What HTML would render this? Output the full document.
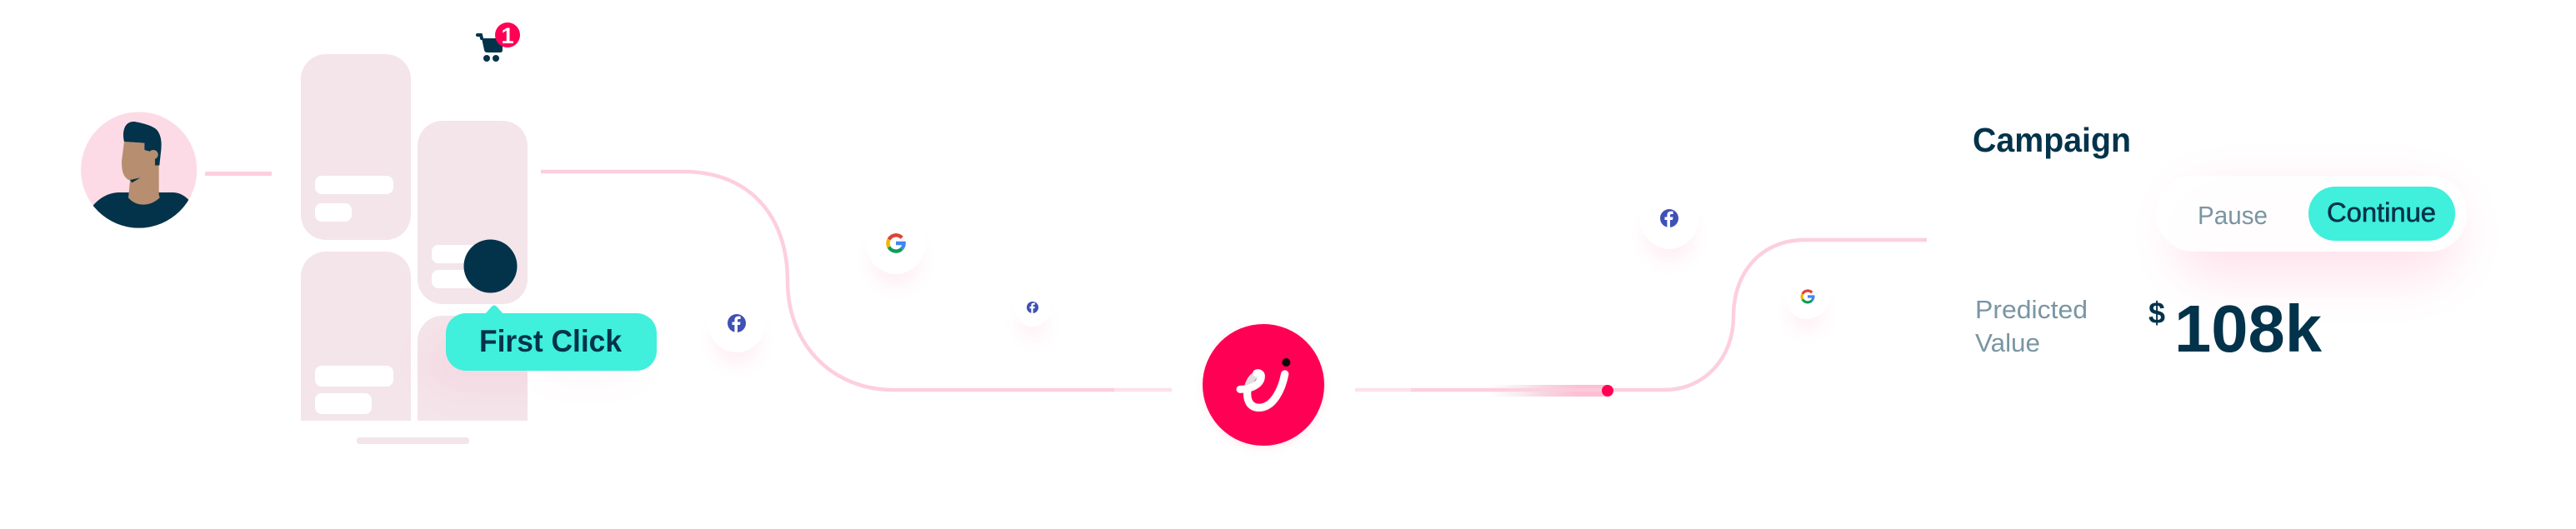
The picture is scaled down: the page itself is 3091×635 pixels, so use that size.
<!DOCTYPE html>
<html><head><meta charset="utf-8"><style>
html,body{margin:0;padding:0;background:#fff;width:3091px;height:635px;overflow:hidden}
.s{position:absolute;left:0;top:0}
.b{position:absolute;border-radius:50%;background:#fff;box-shadow:0 20px 24px -6px rgba(255,0,85,.07)}
text{font-family:"Liberation Sans",sans-serif}
</style></head><body>
<svg class="s" width="3091" height="635" viewBox="0 0 3091 635">
<defs>
<clipPath id="av"><circle cx="260" cy="252" r="209"/></clipPath>
<clipPath id="cb"><rect x="361" y="60" width="272" height="445"/></clipPath>
<linearGradient id="tr" x1="0" x2="1"><stop offset="0" stop-color="#f4e5ea" stop-opacity="0"/><stop offset=".45" stop-color="#f6d8e2"/><stop offset=".75" stop-color="#fdbfd3"/><stop offset="1" stop-color="#fdbfd3"/></linearGradient>
<filter id="bl" x="-30%" y="-60%" width="160%" height="220%"><feGaussianBlur stdDeviation="30"/></filter>
<filter id="bl2" x="-30%" y="-60%" width="160%" height="220%"><feGaussianBlur stdDeviation="25"/></filter>
<filter id="bl3" x="-50%" y="-50%" width="200%" height="200%"><feGaussianBlur stdDeviation="6"/></filter>
<g id="fb"><circle r="11" fill="#3f51b5"/><path d="M1 11V2H4L4.500-1.500H1V-3.500C1-4.600 1.500-5 2.600-5H4.600V-8.200C3.800-8.300 3-8.400 2-8.400C-.8-8.400-2.600-6.700-2.600-3.800V-1.500H-5.500V2H-2.600V11Z" fill="#fff"/></g>
<g id="gg" fill="none" stroke-width="4.400"><path d="M7.200-6.600A9.600 9.600 0 0 0-8.400-4.500" stroke="#db4437"/><path d="M-8.400-4.500A9.600 9.600 0 0 0-8.400 4.500" stroke="#f4b400"/><path d="M-8.400 4.500A9.600 9.600 0 0 0 6.900 6.700" stroke="#0f9d58"/><path d="M6.900 6.700A9.600 9.600 0 0 0 9.600 0H0" stroke="#4285f4"/></g>
</defs>

<!-- cards -->
<rect x="361" y="65" width="132" height="223" rx="30" fill="#f4e5ea"/>
<rect x="501" y="145" width="132" height="220" rx="30" fill="#f4e5ea"/>
<g clip-path="url(#cb)">
<rect x="361" y="302" width="132" height="260" rx="30" fill="#f4e5ea"/>
<rect x="501" y="379" width="132" height="180" rx="30" fill="#f4e5ea"/>
<rect x="510" y="405" width="200" height="60" rx="30" fill="#ff0055" opacity=".06" filter="url(#bl2)"/>
</g>
<rect x="378" y="211" width="94" height="22" rx="8" fill="#fff"/>
<rect x="378" y="244" width="44" height="22" rx="8" fill="#fff"/>
<rect x="378" y="439" width="94" height="25" rx="8" fill="#fff"/>
<rect x="378" y="472" width="68" height="25" rx="8" fill="#fff"/>
<rect x="518" y="294" width="60" height="22" rx="8" fill="#fff"/>
<rect x="518" y="324" width="60" height="22" rx="8" fill="#fff"/>
<rect x="428" y="525" width="135" height="8" rx="3" fill="#f4e5ea"/>
<circle cx="588.500" cy="319.500" r="32" fill="#03334a"/>

<!-- tooltip -->
<rect x="640" y="395" width="130" height="60" rx="30" fill="#ff0055" opacity=".035" filter="url(#bl2)"/>
<path d="M581 378L590 368Q593 365 596 368L605 378Z" fill="#40efdc"/>
<rect x="535" y="376" width="253" height="69" rx="24" fill="#40efdc"/>
<text x="575" y="422" font-size="37" font-weight="bold" fill="#03334a" textLength="171" lengthAdjust="spacingAndGlyphs">First Click</text>

<!-- cart -->
<path d="M578 46L581 60Q581.500 63 585 63H600Q603 63 603 60V46Z" fill="#03334a"/>
<path d="M573 42H577L578 46" fill="none" stroke="#03334a" stroke-width="4" stroke-linecap="round"/>
<circle cx="584" cy="70" r="4" fill="#03334a"/><circle cx="595" cy="70" r="4" fill="#03334a"/>
<circle cx="609" cy="42" r="15" fill="#ff0055"/>
<text x="609" y="52" font-size="27" font-weight="bold" fill="#fff" text-anchor="middle">1</text>

<!-- avatar -->
<g transform="translate(80 120) scale(.3333)">
<circle cx="260" cy="252" r="209" fill="#fddbe6"/>
<g clip-path="url(#av)">
<path d="M95 380C125 345 160 333 190 333H385C410 335 425 345 445 365L460 480H60Z" fill="#03334a"/>
<path d="M207 150L280 155L280 180L300 185H332V340L335 352C300 385 250 385 222 352L228 290C205 280 198 260 198 220Z" fill="#b78e70"/>
<path d="M207 150C198 110 210 75 245 78C280 85 320 95 330 115C342 135 342 160 340 180L334 235H318V185H298L280 180V155Z" fill="#03334a"/>
<circle cx="312" cy="197" r="17" fill="#b78e70"/>
<path d="M318 212H334V235H318Z" fill="#03334a"/>
<path d="M228 288L265 280L235 298Z" fill="#03334a"/>
</g></g>

<!-- connectors -->
<rect x="246" y="206" width="80" height="5" fill="#fdcfdd"/>
<path d="M649 206H820C900 206 945 260 945 337C945 415 1000 468 1072 468H1337" fill="none" stroke="#fdcfdd" stroke-width="4.500"/>
<path d="M1337 468H1406" fill="none" stroke="#fde1ea" stroke-width="4.500"/>
<path d="M1626 468H1693" fill="none" stroke="#fde1ea" stroke-width="4.500"/>
<path d="M1693 468H1997C2045 468 2080 430 2080 380C2080 325 2115 288 2165 288H2312" fill="none" stroke="#fdcfdd" stroke-width="4.500"/>
<rect x="1785" y="462" width="144" height="14" fill="url(#tr)"/>
<path d="M1785 468H1929" stroke="#fdcfdd" stroke-width="4" opacity=".7"/>
<circle cx="1929" cy="469" r="7" fill="#ff0055"/>

<!-- logo -->
<circle cx="1516" cy="466" r="72" fill="#ff0055" opacity=".08" filter="url(#bl3)"/>
<circle cx="1516" cy="462" r="73" fill="#ff0055"/>
<g transform="translate(1440 380) scale(.3333)" fill="none" stroke-linecap="round">
<path d="M305 207C295 260 265 328 212 328C175 328 165 295 172 255" stroke="#fff" stroke-width="28"/>
<path d="M172 255C176 235 190 212 205 210" stroke="#e2dde1" stroke-width="26"/>
<path d="M144 262C190 262 222 240 220 212C218 204 210 201 203 204" stroke="#fff" stroke-width="27"/>
<circle cx="310" cy="165" r="15" fill="#0a0a0a"/>
</g>

<!-- campaign glow -->
<rect x="2610" y="225" width="340" height="110" rx="50" fill="#ff0055" opacity=".11" filter="url(#bl)"/>
<rect x="2587" y="211" width="373" height="91" rx="45" fill="#fff" fill-opacity=".9"/>
<rect x="2770" y="224" width="176" height="65" rx="32" fill="#40efdc"/>
<text x="2367" y="182" font-size="41" font-weight="bold" fill="#03334a" textLength="190" lengthAdjust="spacingAndGlyphs">Campaign</text>
<text x="2637" y="269" font-size="31" fill="#7a95a3" textLength="84" lengthAdjust="spacingAndGlyphs">Pause</text>
<text x="2792" y="266" font-size="32" fill="#03334a" stroke="#03334a" stroke-width=".6" textLength="131" lengthAdjust="spacingAndGlyphs">Continue</text>
<text x="2370" y="382" font-size="31" fill="#7a95a3" textLength="135" lengthAdjust="spacingAndGlyphs">Predicted</text>
<text x="2370" y="422" font-size="31" fill="#7a95a3" textLength="78" lengthAdjust="spacingAndGlyphs">Value</text>
<text x="2578" y="388" font-size="36" font-weight="bold" fill="#03334a" textLength="20" lengthAdjust="spacingAndGlyphs">$</text>
<text x="2609" y="422" font-size="80" font-weight="bold" fill="#03334a" textLength="177" lengthAdjust="spacingAndGlyphs">108k</text>
</svg>

<div class="b" style="left:850px;top:353px;width:68px;height:70px"></div>
<div class="b" style="left:1039px;top:255px;width:72px;height:74px"></div>
<div class="b" style="left:1217px;top:346px;width:44px;height:46px"></div>
<div class="b" style="left:1968px;top:226px;width:70px;height:73px"></div>
<div class="b" style="left:2143px;top:330px;width:51px;height:53px"></div>

<svg class="s" width="3091" height="635" viewBox="0 0 3091 635">
<use href="#fb" transform="translate(884 388)"/>
<use href="#gg" transform="translate(1075 292)"/>
<use href="#fb" transform="translate(1239 369) scale(.64)"/>
<use href="#fb" transform="translate(2003 262)"/>
<use href="#gg" transform="translate(2169 356) scale(.72)"/>
</svg>
</body></html>
